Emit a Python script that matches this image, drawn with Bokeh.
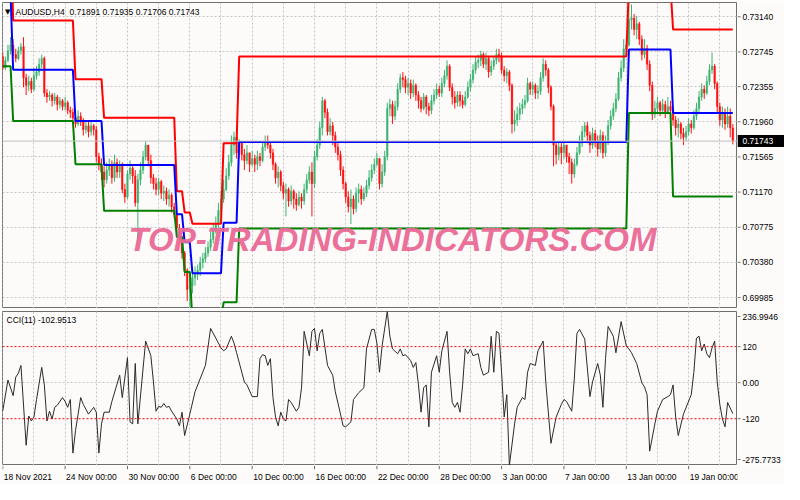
import numpy as np
from bokeh.plotting import figure
from bokeh.models import Range1d, FixedTicker, Span, Label, ColumnDataSource
from bokeh.layouts import column, row
from bokeh.embed import file_html
from bokeh.resources import INLINE
from bokeh.core.properties import value

# ---------------- data (prices in points, 1 point = 0.00001) ----------------
symbol = "AUDUSD,H4"
last_bar_ohlc = [0.71891, 0.71935, 0.71706, 0.71743]
cci_name = "CCI(11)"
cci_last = -102.9513
watermark = "TOP-TRADING-INDICATORS.COM"

first_open = 72693
close_pts = [
    72564, 72650, 72758, 72823, 72715, 72672, 72758, 72802, 72455, 72369,
    72412, 72326, 72477, 72520, 72607, 72672, 72282, 72239, 72261, 72196,
    72239, 72153, 72196, 72131, 72174, 72088, 72066, 72001, 71936, 72023,
    71958, 71871, 71914, 71849, 71914, 71871, 71568, 71482, 71395, 71308,
    71417, 71482, 71330, 71503, 71395, 71460, 71200, 71114, 71373, 71438,
    71352, 71049, 71308, 71417, 71568, 71698, 71525, 71330, 71265, 71200,
    71287, 71157, 71179, 71092, 71135, 71006, 70919, 70767, 70659, 70486,
    70291, 70075, 70118, 70205, 70248, 70291, 70378, 70421, 70486, 70551,
    70638, 70746, 70811, 70962, 71092, 71200, 71352, 71503, 71698, 71785,
    71611, 71720, 71590, 71525, 71611, 71482, 71547, 71482, 71568, 71525,
    71676, 71741, 71698, 71611, 71482, 71330, 71395, 71244, 71157, 71200,
    71070, 71179, 71092, 71027, 71114, 71070, 71200, 71308, 71395, 71265,
    71568, 71698, 71893, 72196, 72066, 71849, 71914, 71806, 71676, 71590,
    71417, 71265, 71114, 71006, 71092, 70984, 71157, 71200, 71092, 71157,
    71244, 71330, 71417, 71482, 71547, 71265, 71395, 71568, 72109, 72153,
    72023, 72131, 72326, 72455, 72434, 72347, 72391, 72282, 72369, 72261,
    72196, 72109, 72239, 72131, 72088, 72196, 72261, 72326, 72282, 72391,
    72477, 72585, 72347, 72239, 72174, 72261, 72196, 72153, 72239, 72347,
    72434, 72542, 72629, 72650, 72715, 72607, 72672, 72520, 72585, 72650,
    72715, 72693, 72542, 72477, 72520, 72369, 71936, 71979, 72044, 72109,
    72153, 72196, 72391, 72326, 72369, 72282, 72304, 72455, 72607, 72542,
    72347, 72131, 71698, 71590, 71676, 71611, 71698, 71568, 71503, 71373,
    71482, 71611, 71720, 71849, 71914, 71806, 71698, 71828, 71741, 71655,
    71806, 71611, 71741, 71914, 72023, 72109, 72217, 72455, 72564, 72780,
    72823, 73105, 73126, 72996, 73061, 72888, 72715, 72780, 72607, 72369,
    72044, 72109, 72174, 72088, 72153, 72066, 72131, 72088, 71979, 71893,
    71936, 71828, 71785, 71849, 71936, 71893, 72023, 72109, 72239, 72326,
    72282, 72412, 72542, 72585, 72391, 72131, 71979, 72066, 71936, 72023,
    71891, 71743,
]
high_pts = [
    72737, 72693, 72823, 72910, 72888, 72780, 72802, 72845, 72910, 72499,
    72477, 72455, 72564, 72585, 72672, 72715, 72693, 72326, 72304, 72282,
    72282, 72261, 72239, 72217, 72239, 72196, 72131, 72109, 72066, 72088,
    72066, 72001, 71979, 71958, 71958, 71936, 71914, 71611, 71547, 71460,
    71503, 71547, 71525, 71590, 71547, 71525, 71503, 71265, 71417, 71525,
    71482, 71417, 71373, 71503, 71633, 71741, 71698, 71590, 71373, 71330,
    71330, 71308, 71244, 71222, 71200, 71157, 71049, 70941, 70811, 70681,
    70508, 70313, 70183, 70270, 70335, 70356, 70443, 70486, 70551, 70616,
    70724, 70811, 70897, 71049, 71179, 71308, 71438, 71590, 71806, 71849,
    71828, 71763, 71741, 71655, 71698, 71611, 71633, 71590, 71633, 71611,
    71741, 71806, 71806, 71741, 71655, 71503, 71460, 71417, 71287, 71265,
    71222, 71244, 71200, 71157, 71179, 71157, 71265, 71373, 71460, 71503,
    71633, 71763, 71958, 72239, 72217, 72109, 72001, 71958, 71849, 71720,
    71633, 71460, 71287, 71179, 71200, 71135, 71222, 71265, 71244, 71222,
    71308, 71417, 71482, 71547, 71611, 71547, 71482, 71633, 72174, 72217,
    72196, 72196, 72391, 72499, 72520, 72477, 72455, 72434, 72434, 72391,
    72304, 72239, 72282, 72261, 72174, 72261, 72326, 72391, 72369, 72455,
    72542, 72650, 72607, 72391, 72304, 72304, 72304, 72261, 72304, 72412,
    72499, 72607, 72693, 72715, 72758, 72737, 72737, 72693, 72650, 72693,
    72780, 72780, 72737, 72585, 72564, 72542, 72391, 72088, 72131, 72174,
    72217, 72261, 72455, 72412, 72412, 72391, 72369, 72520, 72672, 72650,
    72564, 72369, 72153, 71741, 71741, 71720, 71741, 71698, 71611, 71547,
    71547, 71676, 71806, 71914, 71958, 71958, 71849, 71893, 71871, 71806,
    71871, 71849, 71806, 71979, 72088, 72174, 72282, 72520, 72650, 72888,
    72910, 73299, 73278, 73170, 73148, 73083, 72931, 72888, 72823, 72650,
    72412, 72196, 72239, 72196, 72217, 72196, 72239, 72196, 72131, 72023,
    72001, 71958, 71893, 71914, 72001, 71979, 72088, 72174, 72304, 72391,
    72369, 72477, 72607, 72737, 72607, 72412, 72174, 72131, 72109, 72131,
    72109, 71935,
]
low_pts = [
    72542, 72542, 72629, 72715, 72693, 72629, 72650, 72715, 72347, 72261,
    72304, 72282, 72304, 72434, 72477, 72564, 72239, 72174, 72196, 72131,
    72153, 72088, 72109, 72088, 72088, 72044, 72001, 71958, 71893, 71914,
    71914, 71806, 71828, 71785, 71806, 71806, 71503, 71417, 71308, 71222,
    71265, 71352, 71265, 71287, 71330, 71330, 71157, 71049, 71092, 71308,
    71265, 71006, 70616, 71244, 71373, 71525, 71460, 71265, 71200, 71135,
    71135, 71092, 71070, 71027, 71006, 70941, 70876, 70703, 70594, 70421,
    70226, 69945, 69880, 70032, 70118, 70183, 70226, 70313, 70378, 70443,
    70508, 70594, 70703, 70767, 70919, 71049, 71179, 71308, 71460, 71590,
    71547, 71547, 71525, 71417, 71482, 71395, 71460, 71395, 71417, 71460,
    71503, 71633, 71655, 71547, 71417, 71265, 71222, 71179, 71092, 70897,
    71006, 71027, 70984, 70962, 71006, 70984, 71027, 71157, 71265, 70897,
    71222, 71525, 71655, 71806, 72001, 71806, 71806, 71698, 71611, 71525,
    71352, 71200, 71049, 70941, 70811, 70919, 70941, 71049, 71027, 71070,
    71114, 71200, 71287, 71373, 71460, 71200, 71222, 71352, 71525, 72023,
    71936, 71979, 72088, 72282, 72347, 72282, 72261, 72217, 72239, 72196,
    72109, 72066, 72088, 72044, 72023, 72044, 72153, 72217, 72239, 72239,
    72347, 72434, 72304, 72153, 72109, 72131, 72131, 72109, 72131, 72217,
    72304, 72391, 72499, 72564, 72585, 72564, 72542, 72455, 72477, 72542,
    72607, 72629, 72499, 72412, 72391, 72304, 71828, 71849, 71914, 71979,
    72044, 72109, 72174, 72261, 72261, 72217, 72217, 72261, 72412, 72477,
    72282, 72088, 71460, 71482, 71525, 71482, 71547, 71503, 71373, 71265,
    71330, 71460, 71590, 71676, 71785, 71720, 71611, 71655, 71676, 71568,
    71611, 71547, 71568, 71698, 71871, 71979, 72066, 72196, 72412, 72520,
    72693, 72802, 72996, 72931, 72888, 72823, 72650, 72672, 72542, 72304,
    71979, 72001, 72044, 72023, 72044, 72001, 72044, 72001, 71914, 71806,
    71785, 71763, 71698, 71741, 71806, 71828, 71871, 71979, 72066, 72196,
    72217, 72261, 72369, 72499, 72326, 72066, 71914, 71893, 71871, 71893,
    71785, 71706,
]

price_ticks = [0.73140, 0.72745, 0.72355, 0.71960, 0.71565, 0.71170, 0.70775, 0.70380, 0.69985]
price_top, price_bottom = 0.73300, 0.69862

time_tick_bars = [0, 24, 48, 72, 96, 120, 144, 168, 192, 216, 240, 264]
time_tick_labels = ["18 Nov 2021", "24 Nov 00:00", "30 Nov 00:00", "6 Dec 00:00",
                    "10 Dec 00:00", "16 Dec 00:00", "22 Dec 00:00", "28 Dec 00:00",
                    "3 Jan 00:00", "7 Jan 00:00", "13 Jan 00:00", "19 Jan 00:00"]
grid_bars = list(range(0, 283, 12))

# channel lines: first bar of each step and its level (points)
channel_start = [0, 4, 28, 39, 67, 70, 73, 85, 91, 241, 258]
upper_pts = [74200, 73097, 72439, 72004, 71179, 70941, 70814, 71720, 72693, 73486, 72996]
middle_pts = [73393, 72545, 71969, 71474, 70922, 70606, 70259, 70825, 71734, 72772, 72058]
lower_pts = [72585, 71969, 71482, 70959, 70666, 70273, 69707, 69931, 70762, 72058, 71121]

cci_bar = [0, 2, 4, 5, 6, 7, 9, 10, 11, 12, 13, 15, 16, 17, 18, 19, 20, 21, 23, 24,
           25, 26, 27, 28, 29, 30, 31, 32, 33, 35, 36, 37, 38, 39, 41, 42, 45, 46, 48, 49,
           50, 51, 52, 55, 57, 58, 59, 60, 61, 62, 63, 64, 65, 67, 68, 69, 70, 72, 74, 78,
           80, 82, 84, 85, 86, 88, 89, 90, 93, 94, 96, 98, 99, 100, 101, 102, 103, 104, 105, 106,
           107, 108, 109, 110, 111, 113, 114, 115, 116, 118, 119, 120, 121, 122, 123, 125, 127, 128, 130, 131,
           132, 134, 135, 137, 139, 140, 142, 143, 144, 145, 146, 148, 149, 150, 152, 153, 154, 155, 157, 158,
           159, 160, 161, 162, 163, 164, 165, 167, 168, 169, 171, 172, 173, 174, 175, 176, 177, 178, 179, 180,
           181, 183, 184, 185, 187, 188, 189, 190, 191, 192, 193, 194, 195, 197, 198, 200, 201, 202, 203, 205,
           206, 208, 209, 211, 213, 215, 216, 217, 219, 220, 221, 222, 224, 226, 227, 229, 230, 231, 232, 233,
           235, 236, 238, 240, 241, 242, 244, 246, 247, 248, 249, 251, 252, 254, 256, 257, 258, 259, 260, 262,
           265, 266, 267, 268, 269, 270, 271, 272, 273, 274, 275, 276, 277, 278, 279, 281]
cci_value = [-94.0, 8.8, -43.1, 18.5, 31.5, 57.4, -208.5, -111.2, -127.5, -114.5, -56.1, 50.9, -7.5, -127.5, -95.0, -121.0, -82.0, -75.0, -49.6, -62.6,
             -82.0, -56.1, -234.5, -159.9, -104.7, -49.6, -72.3, -88.5, -104.7, -82.0, -98.3, -234.5, -137.2, -98.3, -98.3, -62.6, 25.0, -49.6, 83.3, -130.7,
             -137.2, 63.9, -137.2, 138.5, 89.8, 2.3, -95.0, -78.8, -82.0, -69.1, -82.0, -78.8, -95.0, -121.0, -143.7, -98.3, -176.1, -104.7, -30.2, 57.4,
             180.6, 148.2, 115.8, 106.0, 112.5, 154.7, 132.0, 99.6, 2.3, -7.5, -46.4, -46.4, 80.1, 93.1, 89.8, 57.4, 80.1, -49.6, -114.5, -143.7,
             -98.3, -121.0, -127.5, -56.1, -65.8, -95.0, -82.0, -17.2, 170.9, 89.8, 170.9, 180.6, 106.0, 164.4, 177.4, 57.4, 25.0, -30.2, -104.7, -143.7,
             -146.9, -130.7, -56.1, -33.4, -17.2, 112.5, 177.4, 177.4, 132.0, 34.7, 122.3, 236.9946, 154.7, 112.5, 96.3, 112.5, 89.8, 93.1, 73.6, 50.9,
             67.1, -7.5, -98.3, -17.2, -7.5, -146.9, 34.7, 89.8, 34.7, 106.0, 170.9, 34.7, -65.8, -82.0, -65.8, -98.3, -7.5, 112.5, 96.3, 112.5,
             89.8, 96.3, 50.9, 25.0, 34.7, 154.7, 34.7, 170.9, 164.4, 34.7, -114.5, -39.9, -275.7733, -137.2, -82.0, -49.6, -56.1, 34.7, 63.9, 57.4,
             106.0, 138.5, 2.3, -202.0, -114.5, -72.3, -56.1, -62.6, -95.0, 15.2, 164.4, 177.4, 145.0, -46.4, 2.3, 63.9, 25.0, -82.0, 80.1, 187.1,
             154.7, 99.6, 203.3, 122.3, 112.5, 99.6, 63.9, -1.0, -13.9, -39.9, -228.0, -137.2, -95.0, -56.1, -46.4, -39.9, -7.5, -114.5, -176.1, -104.7,
             -39.9, 34.7, 148.2, 154.7, 106.0, 128.7, 96.3, 83.3, 115.8, 138.5, 2.3, -72.3, -121.0, -146.9, -65.8, -102.9513]
cci_max, cci_min = 236.9946, -275.7733
cci_levels = [120, -120]
cci_tick_values = [cci_max, 120, 0, -120, cci_min]
cci_tick_labels = ["236.9946", "120", "0.00", "-120", "-275.7733"]

# ---------------- styling / layout ----------------
BG = "#FDFBFA"
AXC = "#6E6E6E"
GRID = "#C4C4C4"
FONT = "Liberation Sans"
FS = "8.5px"
FW = 735          # chart frame width
AXW = 47          # price-scale strip width
FH1, FH2, FH3 = 306, 154, 19
X0, X1 = -0.1, 282.8

n = len(close_pts)
idx = np.arange(n)
close = np.array(close_pts) / 1e5
opn = np.concatenate([[first_open], close_pts[:-1]]) / 1e5
high = np.maximum(np.array(high_pts) / 1e5, np.maximum(opn, close))
low = np.minimum(np.array(low_pts) / 1e5, np.minimum(opn, close))
bull = close >= opn
col = np.where(bull, "#3CB371", "#FF1010")
src = ColumnDataSource(dict(x=idx, h=high, l=low,
                            top=np.maximum(opn, close), bot=np.minimum(opn, close), col=col))

seg = np.searchsorted(channel_start, idx, side="right") - 1
upper = np.array(upper_pts)[seg] / 1e5
middle = np.array(middle_pts)[seg] / 1e5
lower = np.array(lower_pts)[seg] / 1e5

xr = Range1d(X0, X1)
px_per_bar = FW / (X1 - X0)
yr1 = Range1d(price_bottom, price_top)
yr2 = Range1d(cci_min, cci_max)
ppx = (price_top - price_bottom) / FH1
cpx = (cci_max - cci_min) / FH2


def chart(fh, yr, top_border):
    p = figure(frame_width=FW, frame_height=fh, x_range=xr, y_range=yr,
               output_backend="svg", toolbar_location=None, x_axis_location=None, y_axis_location=None,
               min_border_left=2, min_border_top=top_border, min_border_bottom=0, min_border_right=0,
               background_fill_color=BG, border_fill_color=BG, outline_line_color=AXC)
    return p


def scale_strip(fh, yr, top_border, label_pos, labels, tick_pos):
    s = figure(frame_width=AXW, frame_height=fh, x_range=Range1d(0, AXW), y_range=yr,
               output_backend="svg", toolbar_location=None, x_axis_location=None, y_axis_location=None,
               min_border_left=0, min_border_top=top_border, min_border_bottom=0, min_border_right=0,
               background_fill_color=BG, border_fill_color=BG, outline_line_color=None)
    s.grid.visible = False
    s.segment(x0=[0] * len(tick_pos), y0=tick_pos, x1=[3] * len(tick_pos), y1=tick_pos,
              line_color=AXC, line_width=1)
    s.text(x=[5] * len(label_pos), y=label_pos, text=labels, text_font=value(FONT),
           text_font_size=value(FS), text_color="#000000", text_align="left", text_baseline="middle")
    return s


def grid_style(g):
    g.grid_line_color = GRID
    g.grid_line_dash = "2 2"
    g.grid_line_width = 1


# ---- price panel ----
p1 = chart(FH1, yr1, 2)
p1.xgrid.ticker = FixedTicker(ticks=grid_bars)
p1.ygrid.ticker = FixedTicker(ticks=price_ticks)
grid_style(p1.xgrid)
grid_style(p1.ygrid)

p1.add_layout(Span(location=last_bar_ohlc[3], dimension="width", line_color="#C0C0C0", line_width=1))

p1.segment(x0="x", y0="l", x1="x", y1="h", line_color="col", line_width=1, source=src)
p1.vbar(x="x", width=0.62, top="top", bottom="bot", fill_color="col", line_color="col",
        line_width=0.4, source=src)

p1.add_layout(Label(x=150, y=0.70638, text=watermark, text_font=FONT, text_font_size="33px",
                    text_font_style="bold italic", text_color="#EA6895", text_alpha=0.95,
                    text_align="center", text_baseline="middle"))

p1.line(idx, upper, line_color="#FF0000", line_width=2)
p1.line(idx, middle, line_color="#0000FF", line_width=2)
p1.line(idx, lower, line_color="#008000", line_width=2)

hy = price_top - 9 * ppx
p1.add_layout(Label(x=X0 + 2.5 / px_per_bar, y=hy, text="\u25BC", text_font="DejaVu Sans",
                    text_font_size="7px", text_color="#000000", text_baseline="middle"))
p1.add_layout(Label(x=X0 + 13 / px_per_bar, y=hy, text=symbol, text_font=FONT,
                    text_font_size=FS, text_color="#000000", text_baseline="middle"))
p1.add_layout(Label(x=X0 + 67 / px_per_bar, y=hy,
                    text=" ".join(f"{v:.5f}" for v in last_bar_ohlc), text_font=FONT,
                    text_font_size=FS, text_color="#000000", text_baseline="middle"))

s1 = scale_strip(FH1, yr1, 2, price_ticks, [f"{v:.5f}" for v in price_ticks], price_ticks)
cur = last_bar_ohlc[3]
s1.quad(left=[0], right=[AXW], top=[cur + 6 * ppx], bottom=[cur - 6 * ppx],
        fill_color="#000000", line_color=None)
s1.text(x=[5], y=[cur], text=[f"{cur:.5f}"], text_font=value(FONT), text_font_size=value(FS),
        text_color="#FFFFFF", text_align="left", text_baseline="middle")

# ---- CCI panel ----
p2 = chart(FH2, yr2, 3)
p2.xgrid.ticker = FixedTicker(ticks=grid_bars)
p2.ygrid.ticker = FixedTicker(ticks=[0])
grid_style(p2.xgrid)
grid_style(p2.ygrid)
for lv in cci_levels:
    p2.add_layout(Span(location=lv, dimension="width", line_color="#FF0000", line_dash="2 2", line_width=1))
p2.line(cci_bar, cci_value, line_color="#2A2A2A", line_width=1)
p2.add_layout(Label(x=X0 + 4 / px_per_bar, y=cci_max - 8 * cpx, text=f"{cci_name} {cci_last:.4f}",
                    text_font=FONT, text_font_size=FS, text_color="#000000", text_baseline="middle"))

cci_label_pos = list(cci_tick_values)
cci_label_pos[0] = cci_max - 5 * cpx
cci_label_pos[-1] = cci_min + 6 * cpx
s2 = scale_strip(FH2, yr2, 3, cci_label_pos, cci_tick_labels, cci_label_pos)

# ---- time labels strip ----
p3 = figure(frame_width=FW, frame_height=FH3, x_range=xr, y_range=Range1d(0, 1),
            output_backend="svg", toolbar_location=None, x_axis_location=None, y_axis_location=None,
            min_border_left=2, min_border_top=0, min_border_bottom=0, min_border_right=AXW,
            background_fill_color=BG, border_fill_color=BG, outline_line_color=None)
p3.grid.visible = False
p3.segment(x0=time_tick_bars, y0=[1.0] * len(time_tick_bars), x1=time_tick_bars,
           y1=[0.8] * len(time_tick_bars), line_color=AXC, line_width=1)
p3.text(x=time_tick_bars, y=[0.42] * len(time_tick_bars), text=time_tick_labels, x_offset=1,
        text_font=value(FONT), text_font_size=value(FS), text_color="#000000",
        text_align="left", text_baseline="middle")

layout = column(row(p1, s1, spacing=0), row(p2, s2, spacing=0), p3, spacing=0)
open("out.html", "w").write(file_html(layout, INLINE))
